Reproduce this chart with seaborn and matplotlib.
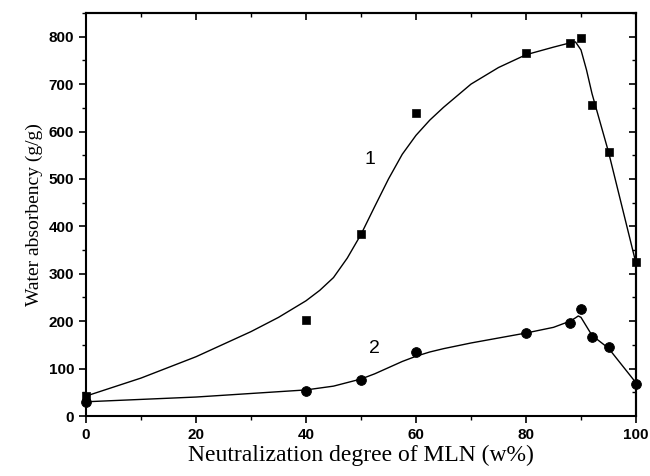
import numpy as np
import pandas as pd
import matplotlib
matplotlib.use("Agg")
import matplotlib.pyplot as plt
import seaborn as sns
from matplotlib.ticker import MultipleLocator

# measured data
deg = [0, 40, 50, 60, 80, 88, 90, 92, 95, 100]
s1 = [42, 203, 383, 640, 765, 787, 797, 657, 557, 325]
s2 = [30, 53, 75, 135, 176, 197, 226, 167, 146, 68]

# fitted curves
fit1_x = [0, 10, 20, 30, 35, 40, 42.5, 45, 47.5, 50, 52.5, 55, 57.5, 60, 62.5, 65, 70, 75, 80, 85, 88, 89, 90, 91, 92, 95, 100]
fit1_y = [42, 80, 125, 178, 208, 243, 265, 292, 333, 383, 442, 500, 552, 592, 624, 651, 700, 735, 762, 778, 787, 789, 772, 730, 680, 557, 322]
fit2_x = [0, 20, 40, 45, 50, 52.5, 55, 57.5, 60, 62.5, 65, 67.5, 70, 80, 85, 88, 89, 89.5, 90, 92, 95, 100]
fit2_y = [30, 40, 55, 63, 78, 89, 102, 115, 126, 135, 142, 148, 154, 175, 187, 200, 207, 211, 208, 170, 143, 70]

sns.set_theme(style="ticks")
plt.rcParams['font.family'] = ['Liberation Sans', 'DejaVu Sans']
plt.rcParams['text.color'] = 'black'
plt.rcParams['axes.labelcolor'] = 'black'

fig = plt.figure(figsize=(6.5, 4.76), dpi=100)
ax = fig.add_axes([86/650, 60/476, 550/650, 403/476])

sns.lineplot(x=fit1_x, y=fit1_y, ax=ax, color='black', lw=1.0, sort=False, estimator=None)
sns.lineplot(x=fit2_x, y=fit2_y, ax=ax, color='black', lw=1.0, sort=False, estimator=None)
sns.scatterplot(x=deg, y=s1, ax=ax, marker='s', s=36, color='black', edgecolor='black', zorder=3, clip_on=False)
sns.scatterplot(x=deg, y=s2, ax=ax, marker='o', s=50, color='black', edgecolor='black', zorder=3, clip_on=False)

ax.set_xlim(0, 100)
ax.set_ylim(0, 850)
ax.xaxis.set_major_locator(MultipleLocator(20))
ax.xaxis.set_minor_locator(MultipleLocator(10))
ax.yaxis.set_major_locator(MultipleLocator(100))
ax.yaxis.set_minor_locator(MultipleLocator(50))
ax.tick_params(which='major', direction='out', length=5, width=1.2, labelsize=11, colors='black')
ax.tick_params(which='minor', direction='out', length=3, width=1.0, colors='black')
for lab in ax.get_xticklabels() + ax.get_yticklabels():
    lab.set_fontweight('bold')

top = ax.secondary_xaxis('top')
top.xaxis.set_major_locator(MultipleLocator(20))
top.xaxis.set_minor_locator(MultipleLocator(10))
top.tick_params(which='major', direction='in', length=5, width=1.2, labeltop=False, colors='black')
top.tick_params(which='minor', direction='in', length=3, width=1.0, colors='black')
right = ax.secondary_yaxis('right')
right.yaxis.set_major_locator(MultipleLocator(100))
right.yaxis.set_minor_locator(MultipleLocator(50))
right.tick_params(which='major', direction='in', length=5, width=1.2, labelright=False, colors='black')
right.tick_params(which='minor', direction='in', length=3, width=1.0, colors='black')

for sp in ax.spines.values():
    sp.set_visible(True)
    sp.set_linewidth(1.5)
    sp.set_color('black')
for s in (top, right):
    for sp in s.spines.values():
        sp.set_linewidth(1.5)
        sp.set_color('black')

ax.set_xlabel('Neutralization degree of MLN (w%)', family=['Liberation Serif'], fontsize=17, labelpad=2, color='black')
ax.set_ylabel('Water absorbency (g/g)', family=['Liberation Serif'], fontsize=14, labelpad=4, color='black')

ax.text(51.6, 542, '1', fontsize=14, ha='center', va='center', color='black')
ax.text(52.5, 143, '2', fontsize=14, ha='center', va='center', color='black')

fig.savefig('out.png', dpi=100)
